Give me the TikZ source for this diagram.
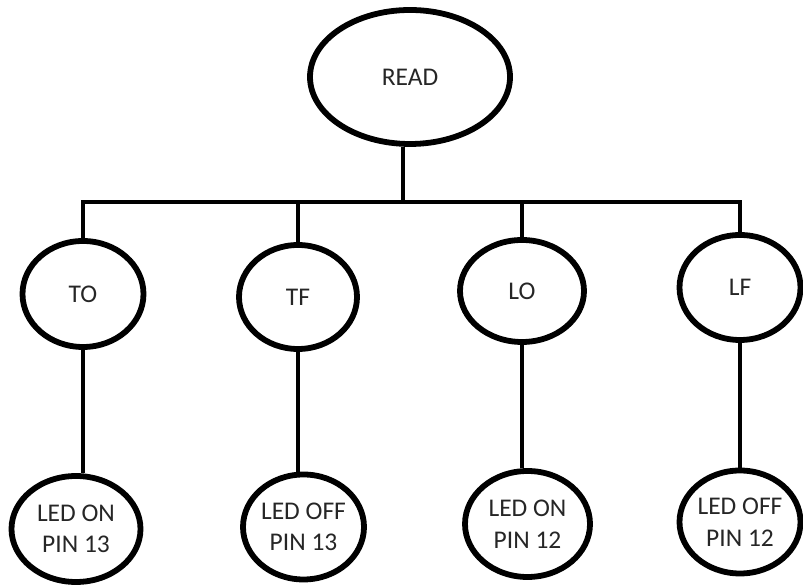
\documentclass[tikz,border=0pt]{standalone}
\usepackage{fontspec}
\setmainfont{Carlito}
\usetikzlibrary{shapes.geometric}

\begin{document}
\begin{tikzpicture}[
    bubble/.style={ellipse, draw, line width=3.3pt, inner sep=0pt,
        text=black!85, align=center, font=\fontsize{14.5}{18}\selectfont},
    wire/.style={line width=1.9pt}]
    \useasboundingbox (0,0) rectangle (16.06,11.7);

    % --- TOP ---
    \node[bubble, minimum width=4.0cm, minimum height=2.68cm] (read) at (8.2,10.16) {READ};

    % --- MIDDLE ROW ---
    \node[bubble, minimum width=2.42cm, minimum height=2.12cm] (to) at (1.66,5.82) {TO};
    \node[bubble, minimum width=2.36cm, minimum height=2.08cm] (tf) at (5.96,5.76) {TF};
    \node[bubble, minimum width=2.48cm, minimum height=2.04cm] (lo) at (10.44,5.88) {LO};
    \node[bubble, minimum width=2.42cm, minimum height=2.1cm] (lf) at (14.8,5.95) {LF};

    % --- BOTTOM ROW ---
    \node[bubble, minimum width=2.58cm, minimum height=2.12cm] (ledon13) at (1.52,1.12) {LED ON\\PIN 13};
    \node[bubble, minimum width=2.42cm, minimum height=2.1cm] (ledoff13) at (6.07,1.16) {LED OFF\\PIN 13};
    \node[bubble, minimum width=2.5cm, minimum height=2.12cm] (ledon12) at (10.55,1.22) {LED ON\\PIN 12};
    \node[bubble, minimum width=2.42cm, minimum height=2.06cm] (ledoff12) at (14.8,1.26) {LED OFF\\PIN 12};

    % --- CONNECTORS ---
    \coordinate (bus) at (8.06,7.66);
    \draw[wire] (bus |- read.south) -- (bus);
    \draw[wire] (to.north) -- (to.north |- bus) -- (lf.north |- bus) -- (lf.north);
    \draw[wire] (tf.north) -- (tf.north |- bus);
    \draw[wire] (lo.north) -- (lo.north |- bus);

    \draw[wire] (to.south) -- (to.south |- ledon13.north);
    \draw[wire] (tf.south) -- (tf.south |- ledoff13.north);
    \draw[wire] (lo.south) -- (lo.south |- ledon12.north);
    \draw[wire] (lf.south) -- (lf.south |- ledoff12.north);
\end{tikzpicture}
\end{document}
